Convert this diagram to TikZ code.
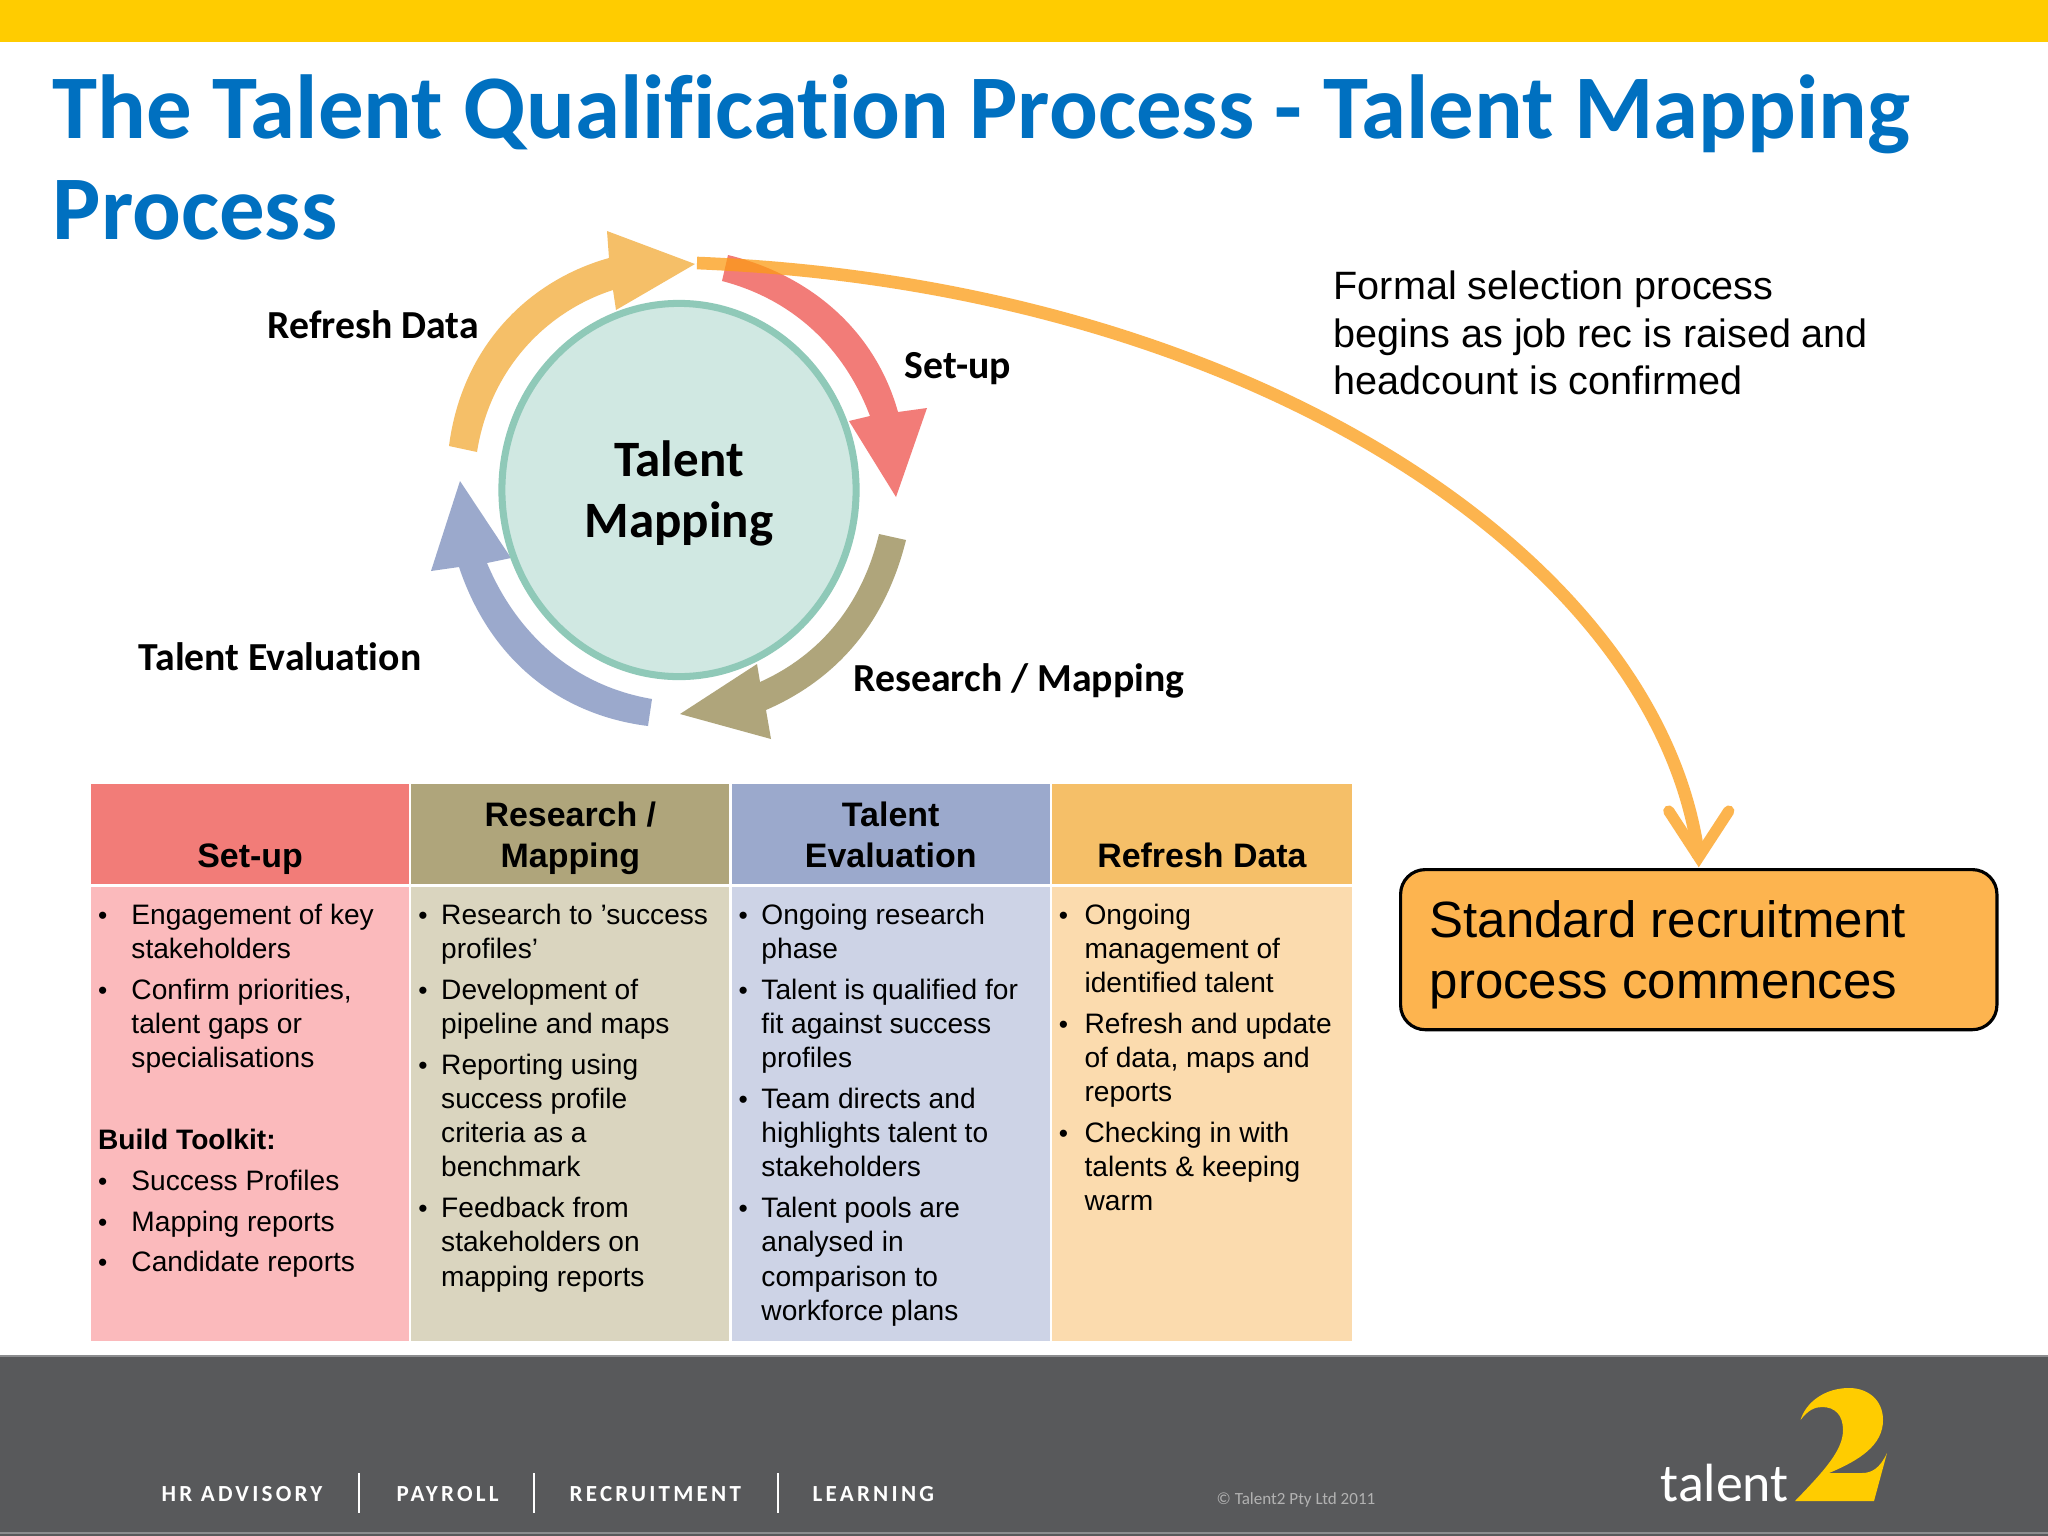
\documentclass[tikz,border=0pt]{standalone}
\usepackage{fontspec}
\usetikzlibrary{positioning,calc,shapes.geometric}
\setmainfont{Liberation Sans}
\newfontfamily\calfont[Ligatures=NoCommon]{Carlito}
\newfontfamily\footfont[LetterSpace=14]{Carlito}
\definecolor{bandyellow}{HTML}{FFCC00}
\definecolor{titleblue}{HTML}{0070C0}
\definecolor{footgrey}{HTML}{58595B}
\definecolor{footedge}{HTML}{8C8D8F}
\definecolor{setupred}{HTML}{F27C78}
\definecolor{researcholive}{HTML}{AFA57B}
\definecolor{evalblue}{HTML}{9BA9CC}
\definecolor{refreshgold}{HTML}{F5BF68}
\definecolor{setuplight}{HTML}{FBBABC}
\definecolor{researchlight}{HTML}{DAD5BF}
\definecolor{evallight}{HTML}{CDD3E6}
\definecolor{refreshlight}{HTML}{FBDBAE}
\definecolor{mapfill}{HTML}{D0E8E2}
\definecolor{mapline}{HTML}{8FC9B8}
\definecolor{stdfill}{HTML}{FDB44F}
\definecolor{longarrow}{HTML}{FC9B14}
\newlength{\bulind}
\newcommand{\bul}[1]{\par\hangindent=\bulind\hangafter=1\noindent\makebox[\bulind][l]{\fontsize{7.5}{7.5}\selectfont\textbullet}#1}
\newcommand{\headtext}[2]{\parbox[c][1cm][b]{#1}{\centering #2\strut\par\vspace{1.38pt}}}
\newcommand{\celltext}[3]{\parbox[c][4.54cm][t]{#1}{\setlength{\bulind}{#2}\setlength{\parskip}{1.9pt}\setlength{\leftskip}{2pt}\fontsize{8}{9.72}\selectfont\vspace{3pt}#3}}
\tikzset{
	headcell/.style={inner sep=0pt, outer sep=0pt, anchor=north west, font=\fontsize{9.65}{11.5}\selectfont\bfseries},
	bodycell/.style={inner sep=0pt, outer sep=0pt, anchor=north west},
	cyclelabel/.style={inner sep=0pt, anchor=base west, font=\calfont\bfseries\fontsize{11.3}{13}\selectfont},
	footitem/.style={inner sep=0pt, anchor=base west, text=white, font=\footfont\bfseries\fontsize{6.55}{8}\selectfont},
	footrule/.style={draw=white, line width=.7pt}
}
\begin{document}
\begin{tikzpicture}[x=0.01cm,y=-0.01cm]
	\useasboundingbox (0,0) rectangle (2048,1536);
	\fill[white] (0,0) rectangle (2048,1536);
	\fill[bandyellow] (0,0) rectangle (2048,42);
	\node[anchor=north west, inner sep=0pt, align=left, text=titleblue, font=\calfont\bfseries\fontsize{25.85}{28.8}\selectfont] (title) at (52,74)
		{The Talent Qualification Process - Talent Mapping\\Process};

	% cycle
	\fill[refreshgold] (449,446) .. controls (462,345) and (530,280) .. (609,258) -- (607,231) -- (695,264) -- (616,310) -- (613,290)
		.. controls (545,312) and (490,370) .. (477,452) -- cycle;
	\fill[setupred] (728,255) .. controls (810,275) and (875,330) .. (898,412) -- (927,408) -- (896,497) -- (849,421) -- (870,416)
		.. controls (845,350) and (795,300) .. (722,281) -- cycle;
	\fill[researcholive] (906,540) .. controls (885,625) and (835,680) .. (766,710) -- (771,739) -- (680,714) -- (757,664) -- (760,682)
		.. controls (820,655) and (862,605) .. (879,534) -- cycle;
	\fill[evalblue] (648,726) .. controls (560,715) and (490,660) .. (459,567) -- (431,571) -- (460,481) -- (511,558) -- (487,563)
		.. controls (515,630) and (570,685) .. (652,699) -- cycle;
	\node[ellipse, draw=mapline, fill=mapfill, line width=2pt, minimum width=3.54cm, minimum height=3.73cm, inner sep=0pt,
		align=center, font=\calfont\bfseries\fontsize{14.5}{17.4}\selectfont] (talentmap) at (679,490) {\rule{0pt}{12.3pt}Talent\\Mapping};

	\node[cyclelabel] (refreshlabel) at (267,338) {Refresh Data};
	\node[cyclelabel] (setuplabel) at (904,378) {Set-up};
	\node[cyclelabel] (researchlabel) at (853,691) {Research / Mapping};
	\node[cyclelabel] (evallabel) at (138,670) {Talent Evaluation};

	\node[anchor=north west, inner sep=0pt, align=left, font=\fontsize{11.25}{13.55}\selectfont] (formal) at (1333,270)
		{Formal selection process\\begins as job rec is raised and\\headcount is confirmed};

	% standard box and long arrow
	\node[draw=black, fill=stdfill, line width=.9pt, rounded corners=7pt, anchor=north west, minimum width=5.96cm, minimum height=1.6cm,
		inner sep=0pt] (stdbox) at (1399,868) {};
	\node[anchor=west, inner sep=0pt, align=left, font=\fontsize{14.5}{17.5}\selectfont] (stdtext) at (1429,955)
		{Standard recruitment\\process commences};
	\coordinate (refreshtip) at (697,263);
	\coordinate (boxapex) at ($(stdbox.north)+(0,-11)$);
	\begin{scope}[transparency group, opacity=.75]
		\draw[draw=longarrow, line width=3.6pt] (refreshtip) .. controls (1250,285) and (1660,560) .. (boxapex);
		\draw[draw=longarrow, line width=3.2pt, line cap=round, line join=miter] ($(boxapex)+(-30,-46)$) -- (boxapex) -- ($(boxapex)+(30,-46)$);
	\end{scope}

	% table
	\node[headcell, fill=setupred] (setuphead) at (91,784) {\headtext{3.18cm}{Set-up}};
	\node[headcell, fill=researcholive, right=.6pt of setuphead] (researchhead) {\headtext{3.18cm}{Research /\\Mapping}};
	\node[headcell, fill=evalblue, right=.6pt of researchhead] (evalhead) {\headtext{3.18cm}{Talent\\Evaluation}};
	\node[headcell, fill=refreshgold, right=.6pt of evalhead] (refreshhead) {\headtext{3.0cm}{Refresh Data}};

	\node[bodycell, fill=setuplight, below=.7pt of setuphead] (setupbody) {\celltext{3.18cm}{9.5pt}{%
		\bul{Engagement of key\\stakeholders}
		\bul{Confirm priorities,\\talent gaps or\\specialisations}
		\par\mbox{}\par
		\textbf{Build Toolkit:}
		\bul{Success Profiles}
		\bul{Mapping reports}
		\bul{Candidate reports}}};
	\node[bodycell, fill=researchlight, below=.7pt of researchhead] (researchbody) {\celltext{3.18cm}{6.5pt}{%
		\bul{Research to ’success\\profiles’}
		\bul{Development of\\pipeline and maps}
		\bul{Reporting using\\success profile\\criteria as a\\benchmark}
		\bul{Feedback from\\stakeholders on\\mapping reports}}};
	\node[bodycell, fill=evallight, below=.7pt of evalhead] (evalbody) {\celltext{3.18cm}{6.5pt}{%
		\bul{Ongoing research\\phase}
		\bul{Talent is qualified for\\fit against success\\profiles}
		\bul{Team directs and\\highlights talent to\\stakeholders}
		\bul{Talent pools are\\analysed in\\comparison to\\workforce plans}}};
	\node[bodycell, fill=refreshlight, below=.7pt of refreshhead] (refreshbody) {\celltext{3.0cm}{7.3pt}{%
		\bul{Ongoing\\management of\\identified talent}
		\bul{Refresh and update\\of data, maps and\\reports}
		\bul{Checking in with\\talents \& keeping\\warm}}};

	% footer
	\fill[footgrey] (0,1356) rectangle (2048,1536);
	\draw[footedge, line width=.6pt] (0,1356) -- (2048,1356);
	\draw[footedge, line width=.6pt] (0,1533) -- (2048,1533);
	\node[footitem] (hradvisory) at (161,1501) {HR ADVISORY};
	\node[footitem] (payroll) at (396,1501) {PAYROLL};
	\node[footitem] (recruitment) at (569,1501) {RECRUITMENT};
	\node[footitem] (learning) at (812,1501) {LEARNING};
	\foreach \x in {359,534,778}
		\draw[footrule] (\x,1473) -- (\x,1513);
	\node[anchor=base west, inner sep=0pt, text=black!30, font=\calfont\fontsize{4.85}{6}\selectfont] (copyright) at (1216,1504) {© Talent2 Pty Ltd 2011};
	\node[anchor=base west, inner sep=0pt, text=white, font=\calfont\fontsize{15.3}{18}\selectfont] (talentword) at (1660,1501) {talent};
	\fill[bandyellow] (1795,1501) -- (1874,1501) -- (1887,1453) .. controls (1880,1468) and (1872,1473) .. (1862,1473) -- (1829,1473)
		.. controls (1860,1460) and (1883,1445) .. (1883,1420) .. controls (1883,1400) and (1868,1388) .. (1849,1388)
		.. controls (1825,1388) and (1806,1402) .. (1800.5,1420) .. controls (1808,1410) and (1815,1407) .. (1822,1407)
		.. controls (1835,1407) and (1843,1415) .. (1843,1430) .. controls (1843,1450) and (1825,1470) .. (1795,1501) -- cycle;
\end{tikzpicture}
\end{document}
